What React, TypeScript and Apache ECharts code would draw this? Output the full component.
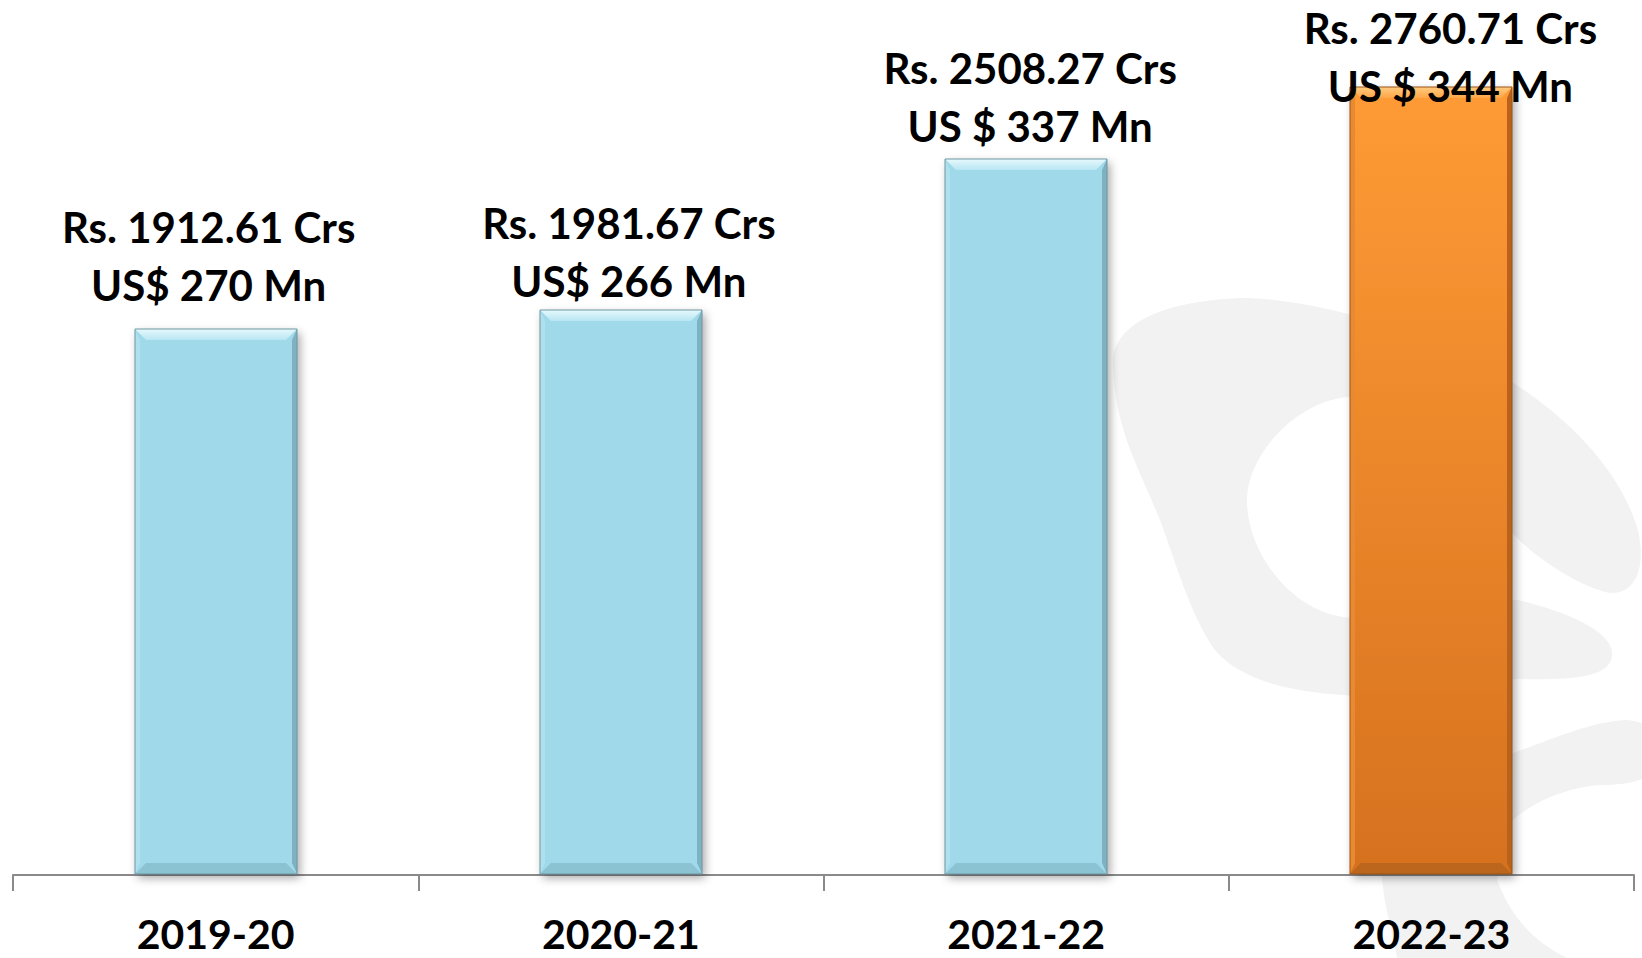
import React, { useEffect, useRef } from 'react';
import * as echarts from 'echarts';

const categories = ['2019-20', '2020-21', '2021-22', '2022-23'];
const rsCrores = [1912.61, 1981.67, 2508.27, 2760.71];
const usdMillions = [270, 266, 337, 344];
const usdPrefixes = ['US$', 'US$', 'US $', 'US $'];
const highlightedIndex = 3;
const labelOffsets = [[-7, -15], [8, 0], [4, -4], [19, 28]];

const WATERMARK_A =
  'M 1113 367 C 1110 330 1150 302 1240 298 C 1300 297 1440 330 1515 384 ' +
  'C 1570 420 1620 470 1638 530 C 1648 575 1630 598 1605 592 ' +
  'C 1580 585 1545 565 1518 539 C 1470 490 1400 398 1349 397 ' +
  'C 1300 400 1250 450 1247 497 C 1245 550 1290 610 1343 617 ' +
  'C 1400 625 1470 595 1518 600 C 1560 610 1615 630 1612 656 ' +
  'C 1610 680 1560 680 1515 679 C 1450 690 1390 698 1343 695 ' +
  'C 1290 692 1240 680 1215 650 C 1190 615 1175 560 1160 520 ' +
  'C 1140 470 1115 430 1113 367 Z';

const WATERMARK_B =
  'M 1513 753 C 1550 740 1590 722 1625 720 C 1650 720 1665 740 1660 760 ' +
  'C 1655 780 1630 785 1600 785 C 1570 787 1535 800 1513 820 ' +
  'L 1497 880 C 1505 900 1520 935 1567 958 L 1567 975 L 1400 975 ' +
  'C 1395 940 1385 910 1383 887 C 1380 860 1370 820 1380 780 ' +
  'C 1400 760 1470 765 1513 753 Z';

let shapesRegistered = false;
function registerShapes() {
  if (shapesRegistered) return;
  echarts.graphic.registerShape('wmA', echarts.graphic.extendPath(WATERMARK_A, {}) as any);
  echarts.graphic.registerShape('wmB', echarts.graphic.extendPath(WATERMARK_B, {}) as any);
  shapesRegistered = true;
}

const FONT = 'Lato, "Open Sans", sans-serif';

export default function App() {
  const ref = useRef<HTMLDivElement>(null);

  useEffect(() => {
    if (!ref.current) return;
    registerShapes();
    const chart = echarts.init(ref.current, undefined, { renderer: 'svg' });

    const blue = {
      body: '#A0D9EA',
      top: new echarts.graphic.LinearGradient(0, 0, 0, 1, [
        { offset: 0, color: '#E6F9FD' },
        { offset: 1, color: '#B8E6F2' },
      ]),
      left: '#AEE0EE',
      right: '#7FB2C1',
      bottom: '#8CC3D3',
      outline: '#6F97A3',
    };
    const orange = {
      body: new echarts.graphic.LinearGradient(0, 0, 0, 1, [
        { offset: 0, color: '#FF9B35' },
        { offset: 1, color: '#D6711F' },
      ]),
      top: new echarts.graphic.LinearGradient(0, 0, 0, 1, [
        { offset: 0, color: '#FFCB80' },
        { offset: 1, color: '#FFA647' },
      ]),
      left: '#E98A30',
      right: '#B8621B',
      bottom: '#BC651D',
      outline: '#9A5416',
    };

    const option: any = {
      animation: false,
      backgroundColor: '#FFFFFF',
      graphic: [
        { type: 'wmA', x: 0, y: 0, z: -10, silent: true, style: { fill: '#F2F2F2' } },
        { type: 'wmB', x: 0, y: 0, z: -10, silent: true, style: { fill: '#F2F2F2' } },
      ],
      grid: { left: 13, right: 8, top: 19, bottom: 83, containLabel: false },
      xAxis: {
        type: 'category',
        data: categories,
        boundaryGap: true,
        axisLine: { show: true, lineStyle: { color: '#8A8A8A', width: 2 } },
        axisTick: { show: true, length: 16, alignWithLabel: false, lineStyle: { color: '#8A8A8A', width: 2 } },
        axisLabel: {
          margin: 41,
          fontSize: 41,
          lineHeight: 34,
          fontWeight: 'bold',
          fontFamily: FONT,
          color: '#000000',
        },
        splitLine: { show: false },
      },
      yAxis: {
        type: 'value',
        min: 0,
        max: 3000,
        show: false,
        splitLine: { show: false },
      },
      series: [
        {
          type: 'custom',
          z: 2,
          silent: true,
          encode: { x: 0, y: 1 },
          data: categories.map((_, i) => [i, rsCrores[i]]),
          renderItem: (params: any, api: any) => {
            const i = params.dataIndex;
            const topPt = api.coord([api.value(0), api.value(1)]);
            const basePt = api.coord([api.value(0), 0]);
            const w = api.size([1, 0])[0] * 0.4;
            const x0 = Math.round(topPt[0] - w / 2);
            const x1 = x0 + Math.round(w);
            const y0 = Math.round(topPt[1]);
            const y1 = Math.round(basePt[1]) - 1;
            const p = i === highlightedIndex ? orange : blue;
            const b = 11;
            const s = 5;
            return {
              type: 'group',
              children: [
                {
                  type: 'rect',
                  shape: { x: x0, y: y0, width: x1 - x0, height: y1 - y0 },
                  style: {
                    fill: p.body,
                    shadowBlur: 10,
                    shadowColor: 'rgba(0,0,0,0.35)',
                    shadowOffsetX: 3,
                    shadowOffsetY: 4,
                  },
                },
                {
                  type: 'polygon',
                  shape: { points: [[x0, y0], [x0 + s, y0 + b], [x0 + s, y1 - b], [x0, y1]] },
                  style: { fill: p.left },
                },
                {
                  type: 'polygon',
                  shape: { points: [[x1, y0], [x1, y1], [x1 - s, y1 - b], [x1 - s, y0 + b]] },
                  style: { fill: p.right },
                },
                {
                  type: 'polygon',
                  shape: { points: [[x0, y1], [x1, y1], [x1 - b, y1 - b], [x0 + b, y1 - b]] },
                  style: { fill: p.bottom },
                },
                {
                  type: 'polygon',
                  shape: { points: [[x0, y0], [x1, y0], [x1 - b, y0 + b], [x0 + b, y0 + b]] },
                  style: { fill: p.top },
                },
                {
                  type: 'rect',
                  shape: { x: x0, y: y0, width: x1 - x0, height: y1 - y0 },
                  style: { fill: 'none', stroke: p.outline, lineWidth: 1 },
                },
              ],
            };
          },
        },
        {
          type: 'bar',
          z: 4,
          silent: true,
          barWidth: '40%',
          itemStyle: { color: 'rgba(0,0,0,0)' },
          data: rsCrores.map((v, i) => ({
            value: v,
            label: { offset: labelOffsets[i] },
          })),
          label: {
            show: true,
            position: 'top',
            distance: 0,
            fontSize: 42,
            lineHeight: 58,
            fontWeight: 'bold',
            fontFamily: FONT,
            color: '#000000',
            align: 'center',
            formatter: (p: any) =>
              `Rs. ${rsCrores[p.dataIndex].toFixed(2)} Crs\n${usdPrefixes[p.dataIndex]} ${usdMillions[p.dataIndex]} Mn`,
          },
        },
      ],
    };

    chart.setOption(option);
    return () => chart.dispose();
  }, []);

  return (
    <div
      ref={ref}
      style={{ position: 'fixed', left: 0, top: 0, width: 1642, height: 958, background: '#FFFFFF' }}
    />
  );
}
